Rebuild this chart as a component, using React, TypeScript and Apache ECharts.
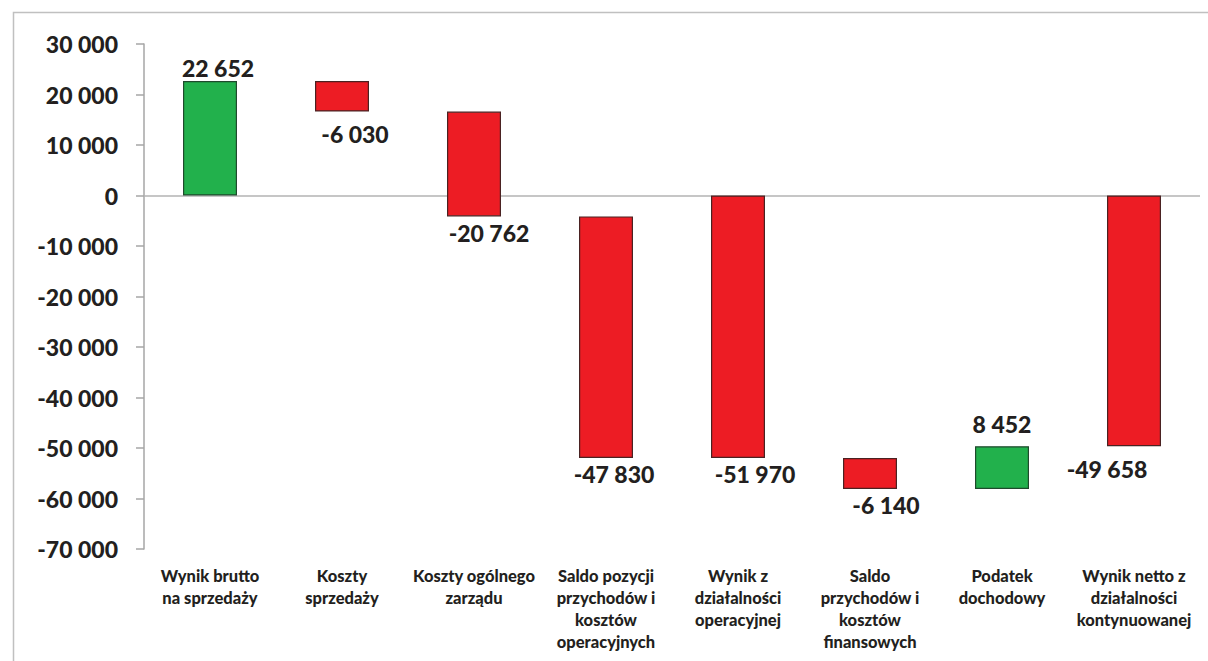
import React, { useEffect, useRef } from "react";
import * as echarts from "echarts";

const categories = [
  "Wynik brutto\nna sprzedaży",
  "Koszty\nsprzedaży",
  "Koszty ogólnego\nzarządu",
  "Saldo pozycji\nprzychodów i\nkosztów\noperacyjnych",
  "Wynik z\ndziałalności\noperacyjnej",
  "Saldo\nprzychodów i\nkosztów\nfinansowych",
  "Podatek\ndochodowy",
  "Wynik netto z\ndziałalności\nkontynuowanej",
];
const values = [22652, -6030, -20762, -47830, -51970, -6140, 8452, -49658];
const isTotal = [false, false, false, false, true, false, false, true];
const yTicks = { min: -70000, max: 30000, interval: 10000 };

// label tweaks (offset x, distance)
const labelOffsetX = [8, 13, 15, 8, 17, 16, 0, -27];
const labelDistance = [2, 11, 5, 5, 5, 5, 11, 11];

const GREEN = "#22b14c";
const RED = "#ed1c24";
const FONT = "Lato, 'Open Sans', sans-serif";
const TEXT = "#231f20";

function fmt(v: number): string {
  const s = Math.abs(Math.round(v)).toString().replace(/\B(?=(\d{3})+(?!\d))/g, " ");
  return (v < 0 ? "-" : "") + s;
}

export default function App() {
  const ref = useRef<HTMLDivElement>(null);
  useEffect(() => {
    if (!ref.current) return;
    const chart = echarts.init(ref.current, undefined, { renderer: "svg" });

    const bases: number[] = [];
    const spans: number[] = [];
    let running = 0;
    values.forEach((v, i) => {
      if (isTotal[i]) {
        bases.push(0);
        spans.push(v);
        running = v;
      } else {
        const start = running;
        const end = running + v;
        const low = Math.min(start, end);
        const high = Math.max(start, end);
        bases.push(low);
        spans.push(high - low);
        running = end;
      }
    });

    const visibleData = values.map((v, i) => {
      const positive = v >= 0;
      const color = positive ? GREEN : RED;
      return {
        value: spans[i],
        itemStyle: {
          color,
          borderColor: positive ? "#1f4a2c" : "#4a2222",
          borderWidth: 1.2,
        },
        label: {
          show: true,
          position: positive ? "top" : "bottom",
          distance: labelDistance[i],
          offset: [labelOffsetX[i], 0],
          formatter: () => fmt(v),
          fontFamily: FONT,
          fontWeight: 900,
          fontSize: 23,
          color: TEXT,
        },
      };
    });

    chart.setOption({
      animation: false,
      backgroundColor: "#ffffff",
      graphic: [
        {
          type: "rect",
          shape: { x: 13.5, y: 12.5, width: 1400, height: 900 },
          style: { fill: "none", stroke: "#c0c0c0", lineWidth: 1.5 },
          silent: true,
          z: -10,
        },
      ],
      grid: { left: 144, top: 44, width: 1056, bottom: 112, containLabel: false },
      xAxis: {
        type: "category",
        data: categories,
        axisLine: { show: false },
        axisTick: { show: false },
        axisLabel: {
          interval: 0,
          margin: 16,
          fontFamily: FONT,
          fontWeight: 900,
          fontSize: 16.5,
          lineHeight: 22,
          color: TEXT,
          verticalAlign: "top",
        },
      },
      yAxis: {
        type: "value",
        min: yTicks.min,
        max: yTicks.max,
        interval: yTicks.interval,
        axisLine: { show: true, lineStyle: { color: "#a6a6a6", width: 1.5 } },
        axisTick: { show: true, length: 8, lineStyle: { color: "#a6a6a6", width: 1.5 } },
        splitLine: { show: false },
        axisLabel: {
          margin: 26,
          formatter: (v: number) => fmt(v),
          fontFamily: FONT,
          fontWeight: 900,
          fontSize: 23,
          color: TEXT,
        },
      },
      series: [
        {
          type: "bar",
          stack: "w",
          stackStrategy: "all",
          data: bases,
          itemStyle: { color: "transparent", borderColor: "transparent" },
          silent: true,
          barWidth: 54,
        },
        {
          type: "bar",
          stack: "w",
          stackStrategy: "all",
          data: visibleData,
          barWidth: 54,
          markLine: {
            silent: true,
            symbol: "none",
            label: { show: false },
            lineStyle: { color: "#b3b3b3", type: "solid", width: 1.5 },
            data: [{ yAxis: 0 }],
            z: 1,
          },
        },
      ],
    });
    return () => chart.dispose();
  }, []);
  return (
    <div
      ref={ref}
      style={{ position: "absolute", left: 0, top: 0, width: 1208, height: 661 }}
    />
  );
}
